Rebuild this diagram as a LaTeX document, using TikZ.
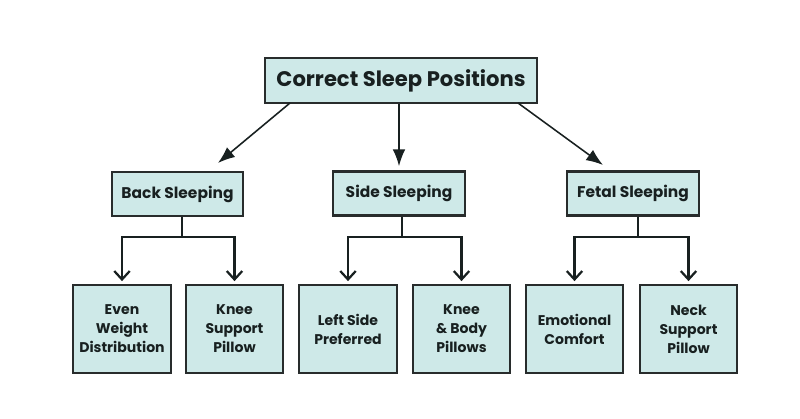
\documentclass[tikz,border=0pt]{standalone}
\usepackage{fontspec}
\setmainfont{Poppins}
\usetikzlibrary{arrows.meta}
\definecolor{boxfill}{RGB}{206,233,232}
\definecolor{boxline}{RGB}{40,44,44}
\definecolor{ink}{RGB}{24,32,32}
\tikzset{
  box/.style={draw=boxline, line width=1.5pt, fill=boxfill, text=ink,
    font=\bfseries, align=center, inner sep=0pt},
  rootbox/.style={box, minimum width=6.8cm, minimum height=1.125cm,
    font=\bfseries\fontsize{15}{18}\selectfont},
  midbox/.style={box, minimum width=3.28cm, minimum height=1.1cm,
    font=\bfseries\fontsize{11}{13}\selectfont},
  leafbox/.style={box, minimum width=2.43cm, minimum height=2.2cm,
    font=\bfseries\fontsize{10}{13.5}\selectfont},
  toparrow/.style={draw=ink, line width=1.1pt, -{Latex[length=12pt,width=9pt]}},
  branch/.style={draw=ink, line width=1.6pt},
  brarrow/.style={branch, -{Straight Barb[length=6pt,width=11pt]}, shorten >=2pt},
}
\begin{document}
\begin{tikzpicture}[x=0.025cm, y=-0.025cm]
\useasboundingbox[fill=white] (0,0) rectangle (800,419);

% root
\node[rootbox] (root) at (401,80.5) {Correct Sleep Positions};

% second level
\node[midbox] (back)  at (177.5,194) {Back Sleeping};
\node[midbox] (side)  at (399,193.5) {Side Sleeping};
\node[midbox] (fetal) at (633,193.5) {Fetal Sleeping};

% leaves
\node[leafbox] (even)  at (122,329)   {Even\\Weight\\Distribution};
\node[leafbox] (knee)  at (234.5,329) {Knee\\Support\\Pillow};
\node[leafbox] (left)  at (348,329)   {Left Side\\Preferred};
\node[leafbox] (kbody) at (461.5,329) {Knee\\\& Body\\Pillows};
\node[leafbox] (emo)   at (574.5,329) {Emotional\\Comfort};
\node[leafbox] (neck)  at (688.5,329) {Neck\\Support\\Pillow};

% root to second level: arrows stop just above the boxes
\coordinate (rl) at (290,103);
\coordinate (rr) at (518,103);
\coordinate (bl) at (218,163);
\coordinate (fr) at (603,165);
\draw[toparrow] (rl) -- (bl);
\draw[toparrow] (root.south -| side.north) -- ([yshift=3pt]side.north);
\draw[toparrow] (rr) -- (fr);

% branch junctions
\coordinate (bj) at (182,237);
\coordinate (sj) at (402,237);
\coordinate (fj) at (638,237);

\draw[branch] (back.south -| bj) -- (bj);
\draw[brarrow] (bj) -| (even.north);
\draw[brarrow] (bj) -| (knee.north);

\draw[branch] (side.south -| sj) -- (sj);
\draw[brarrow] (sj) -| (left.north);
\draw[brarrow] (sj) -| (kbody.north);

\draw[branch] (fetal.south -| fj) -- (fj);
\draw[brarrow] (fj) -| (emo.north);
\draw[brarrow] (fj) -| (neck.north);
\end{tikzpicture}
\end{document}
